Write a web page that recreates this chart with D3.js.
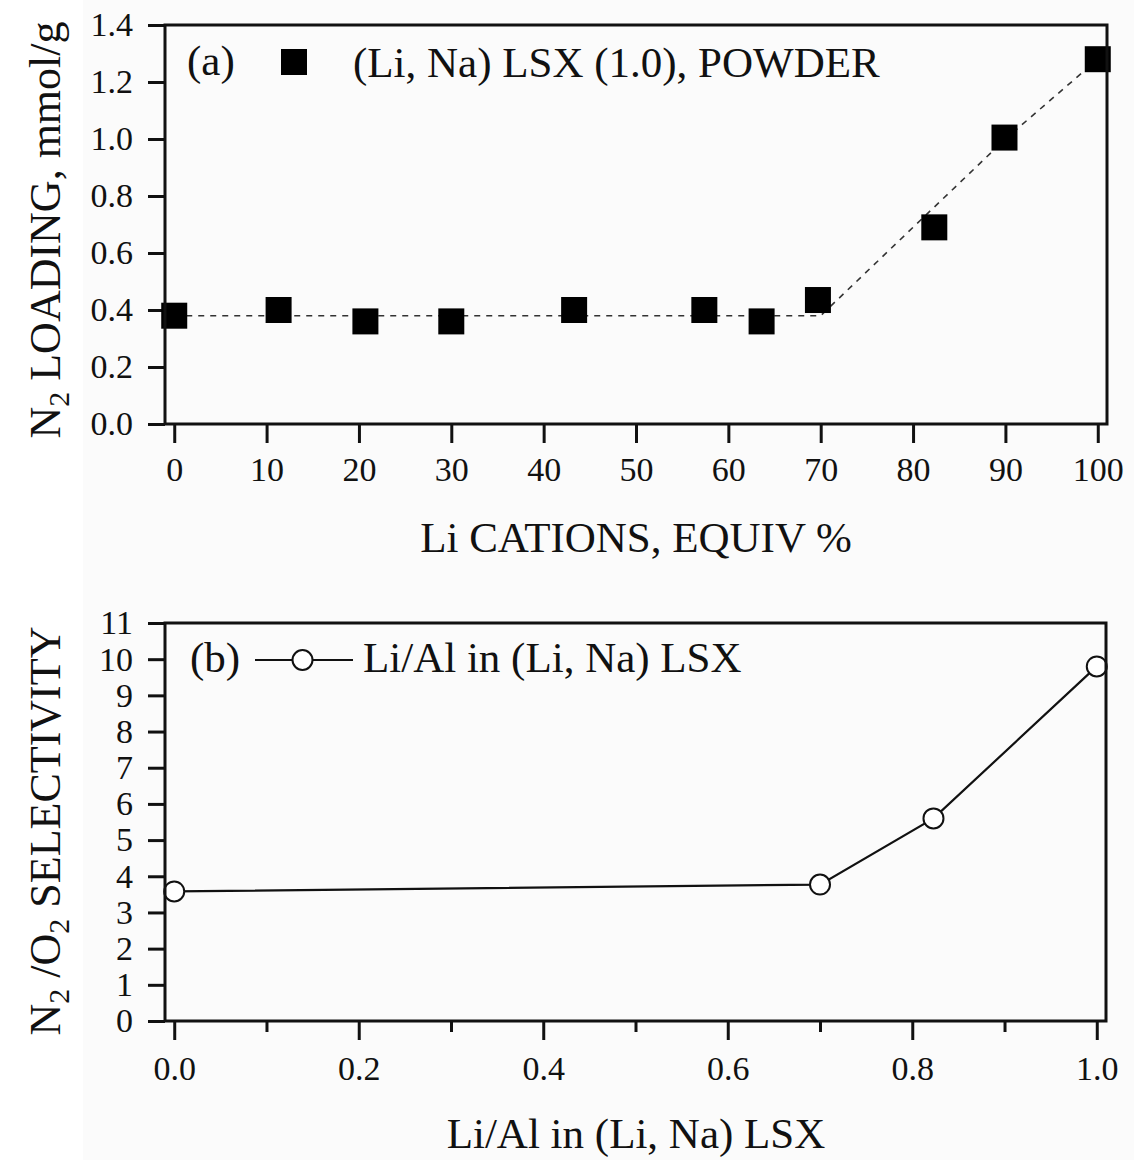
<!DOCTYPE html>
<html><head><meta charset="utf-8">
<script src="https://cdn.jsdelivr.net/npm/d3@7"></script>
<style>
body{margin:0;background:#fff;}
text{font-family:"Liberation Serif","Times New Roman",serif;fill:#111;}
</style></head>
<body>
<svg id="chart" width="1134" height="1160"></svg>
<script>
// ---- Panel (a) data ----
const liCations = [0, 11.3, 20.7, 30, 43.3, 57.4, 63.6, 69.7, 82.3, 89.9, 100];
const n2Loading = [0.38, 0.40, 0.36, 0.36, 0.40, 0.40, 0.36, 0.435, 0.69, 1.005, 1.28];
const trendX = [0, 70, 90, 100];
const trendY = [0.38, 0.38, 1.0, 1.28];
const xTicksA = [0, 10, 20, 30, 40, 50, 60, 70, 80, 90, 100];
const yTicksA = [0.0, 0.2, 0.4, 0.6, 0.8, 1.0, 1.2, 1.4];
const legendA = "(Li, Na) LSX (1.0), POWDER";
const xTitleA = "Li CATIONS, EQUIV %";

// ---- Panel (b) data ----
const liAl = [0, 0.70, 0.823, 1.0];
const selectivity = [3.58, 3.77, 5.6, 9.8];
const xTicksB = [0.0, 0.2, 0.4, 0.6, 0.8, 1.0];
const xMinorB = [0.1, 0.3, 0.5, 0.7, 0.9];
const yTicksB = [0,1,2,3,4,5,6,7,8,9,10,11];
const legendB = "Li/Al in (Li, Na) LSX";
const xTitleB = "Li/Al in (Li, Na) LSX";

const svg = d3.select("#chart");
svg.append("rect").attr("x",83).attr("y",0).attr("width",1051).attr("height",1160).attr("fill","#fbfbfb");

const FONT = '"Liberation Serif","Times New Roman",serif';
function styleAxis(g, fs){
  g.attr("font-family", FONT);
  g.select(".domain").remove();
  g.selectAll(".tick line").attr("stroke","#111").attr("stroke-width",3);
  g.selectAll(".tick text").style("font-size",fs+"px").style("font-family",FONT).attr("fill","#111");
}

// ================= Panel (a) =================
const xa = d3.scaleLinear().domain([-1,101]).range([165,1107]);
const ya = d3.scaleLinear().domain([0,1.4]).range([424,25]);

const ga = svg.append("g");
ga.append("g").attr("transform","translate(0,424)")
  .call(d3.axisBottom(xa).tickValues(xTicksA).tickSize(19).tickPadding(14).tickFormat(d3.format("d")))
  .call(g=>styleAxis(g,34));
ga.append("g").attr("transform","translate(165,0)")
  .call(d3.axisLeft(ya).tickValues(yTicksA).tickSize(17).tickPadding(15).tickFormat(d3.format(".1f")))
  .call(g=>styleAxis(g,34));

// trend dashed line
const trend = trendX.map((x,i)=>[x,trendY[i]]);
ga.append("path").datum(trend)
  .attr("d", d3.line().x(d=>xa(d[0])).y(d=>ya(d[1])))
  .attr("fill","none").attr("stroke","#333").attr("stroke-width",1.6).attr("stroke-dasharray","6,6");

// squares
ga.selectAll("rect.pt").data(liCations.map((x,i)=>[x,n2Loading[i]])).join("rect")
  .attr("class","pt")
  .attr("x",d=>xa(d[0])-13).attr("y",d=>ya(d[1])-13)
  .attr("width",26).attr("height",26).attr("fill","#000");

// frame
ga.append("rect").attr("x",165).attr("y",25).attr("width",942).attr("height",399)
  .attr("fill","none").attr("stroke","#111").attr("stroke-width",3);

// legend (a)
ga.append("text").attr("x",187).attr("y",75).style("font-size","43px").text("(a)");
ga.append("rect").attr("x",281).attr("y",49).attr("width",26).attr("height",26).attr("fill","#000");
ga.append("text").attr("x",353).attr("y",77).style("font-size","43px").text(legendA);

// x title
ga.append("text").attr("x",636).attr("y",552).attr("text-anchor","middle").style("font-size","43px").text(xTitleA);
// y title
const yta = ga.append("text").attr("transform","translate(60,230) rotate(-90)")
  .attr("text-anchor","middle").style("font-size","44px");
yta.append("tspan").text("N");
yta.append("tspan").attr("dy",9).style("font-size","30px").text("2");
yta.append("tspan").attr("dy",-9).text(" LOADING, mmol/g");

// ================= Panel (b) =================
const xb = d3.scaleLinear().domain([-0.01,1.01]).range([165,1106]);
const yb = d3.scaleLinear().domain([0,11]).range([1021,623]);

const gb = svg.append("g");
gb.append("g").attr("transform","translate(0,1021)")
  .call(d3.axisBottom(xb).tickValues(xTicksB).tickSize(19).tickPadding(16).tickFormat(d3.format(".1f")))
  .call(g=>styleAxis(g,34));
gb.append("g").attr("transform","translate(0,1021)")
  .call(d3.axisBottom(xb).tickValues(xMinorB).tickSize(11).tickFormat(""))
  .call(g=>styleAxis(g,34));
gb.append("g").attr("transform","translate(165,0)")
  .call(d3.axisLeft(yb).tickValues(yTicksB).tickSize(17).tickPadding(15).tickFormat(d3.format("d")))
  .call(g=>styleAxis(g,34));

const ptsB = liAl.map((x,i)=>[x,selectivity[i]]);
gb.append("path").datum(ptsB)
  .attr("d", d3.line().x(d=>xb(d[0])).y(d=>yb(d[1])))
  .attr("fill","none").attr("stroke","#111").attr("stroke-width",2.2);
gb.selectAll("circle.pt").data(ptsB).join("circle").attr("class","pt")
  .attr("cx",d=>xb(d[0])).attr("cy",d=>yb(d[1])).attr("r",10)
  .attr("fill","#fff").attr("stroke","#111").attr("stroke-width",2);

gb.append("rect").attr("x",165).attr("y",623).attr("width",941).attr("height",398)
  .attr("fill","none").attr("stroke","#111").attr("stroke-width",3);

// legend (b)
gb.append("text").attr("x",190).attr("y",672).style("font-size","43px").text("(b)");
gb.append("line").attr("x1",255).attr("x2",292).attr("y1",660).attr("y2",660).attr("stroke","#111").attr("stroke-width",2.2);
gb.append("line").attr("x1",313).attr("x2",353).attr("y1",660).attr("y2",660).attr("stroke","#111").attr("stroke-width",2.2);
gb.append("circle").attr("cx",302.5).attr("cy",660).attr("r",10).attr("fill","#fff").attr("stroke","#111").attr("stroke-width",2);
gb.append("text").attr("x",363).attr("y",672).style("font-size","43px").text(legendB);

// x title
gb.append("text").attr("x",636).attr("y",1148).attr("text-anchor","middle").style("font-size","43px").text(xTitleB);
// y title
const ytb = gb.append("text").attr("transform","translate(60,831) rotate(-90)")
  .attr("text-anchor","middle").style("font-size","44px");
ytb.append("tspan").text("N");
ytb.append("tspan").attr("dy",9).style("font-size","30px").text("2");
ytb.append("tspan").attr("dy",-9).text(" /O");
ytb.append("tspan").attr("dy",9).style("font-size","30px").text("2");
ytb.append("tspan").attr("dy",-9).text(" SELECTIVITY");
</script>
</body></html>
